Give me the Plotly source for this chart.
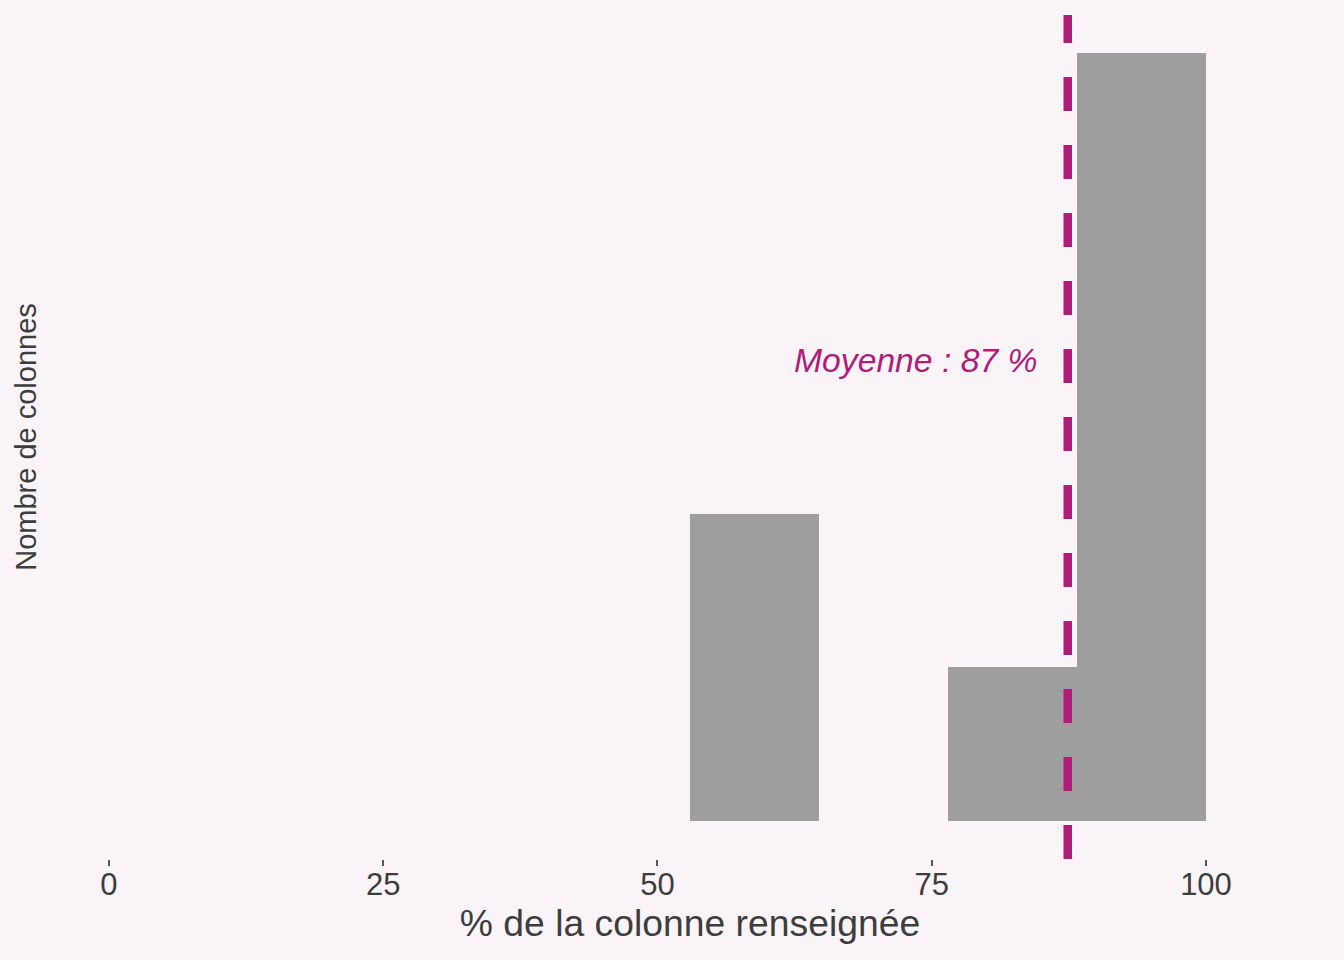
import plotly.graph_objects as go

# Data
bin_left = [53.0, 64.75, 76.5, 88.25]
bin_width = 11.75
counts = [2, 0, 1, 5]
mean_value = 87.4
mean_label = "Moyenne : 87 %"
x_ticks = [0, 25, 50, 75, 100]
x_title = "% de la colonne renseignée"
y_title = "Nombre de colonnes"

BG = "#FAF4F8"
MAG = "#B01C78"
TXT = "#3D3D3D"
FONT = "Liberation Sans"

centers = [b + bin_width / 2 for b in bin_left]

fig = go.Figure()
fig.add_trace(go.Bar(
    x=centers, y=counts, width=[bin_width] * len(counts),
    marker=dict(color="#9E9E9E", line=dict(width=0)),
    showlegend=False, hoverinfo="skip",
))

fig.add_shape(type="line", xref="x", yref="paper",
              x0=mean_value, x1=mean_value, y0=0, y1=1,
              line=dict(color=MAG, width=8.5, dash="34px,34px"))

fig.add_annotation(x=mean_value, y=3, xref="x", yref="y",
                   text="<i>" + mean_label + "</i>", showarrow=False,
                   xanchor="right", yanchor="middle", xshift=-29,
                   font=dict(family=FONT, size=33.7, color=MAG))

fig.update_layout(
    width=1344, height=960,
    paper_bgcolor=BG, plot_bgcolor=BG,
    margin=dict(l=54, r=18, t=15, b=101),
    bargap=0,
    font=dict(family=FONT, color=TXT),
    xaxis=dict(
        range=[-5.01, 110.94],
        tickvals=x_ticks, ticktext=[str(t) for t in x_ticks],
        ticks="outside", ticklen=6, tickwidth=1.5, tickcolor="#555555",
        ticklabelstandoff=-8,
        showgrid=False, zeroline=False, showline=False,
        tickfont=dict(family=FONT, size=31, color=TXT),
        title=dict(text=x_title, font=dict(family=FONT, size=37.3, color=TXT), standoff=3),
    ),
    yaxis=dict(
        range=[-0.25, 5.25],
        showticklabels=False, ticks="",
        showgrid=False, zeroline=False, showline=False,
        title=dict(text=y_title, font=dict(family=FONT, size=29, color=TXT), standoff=7),
    ),
)

fig.write_html("out.html", config={"displayModeBar": False},
               post_script="document.body.style.margin='0';document.body.style.background='" + BG + "';")
